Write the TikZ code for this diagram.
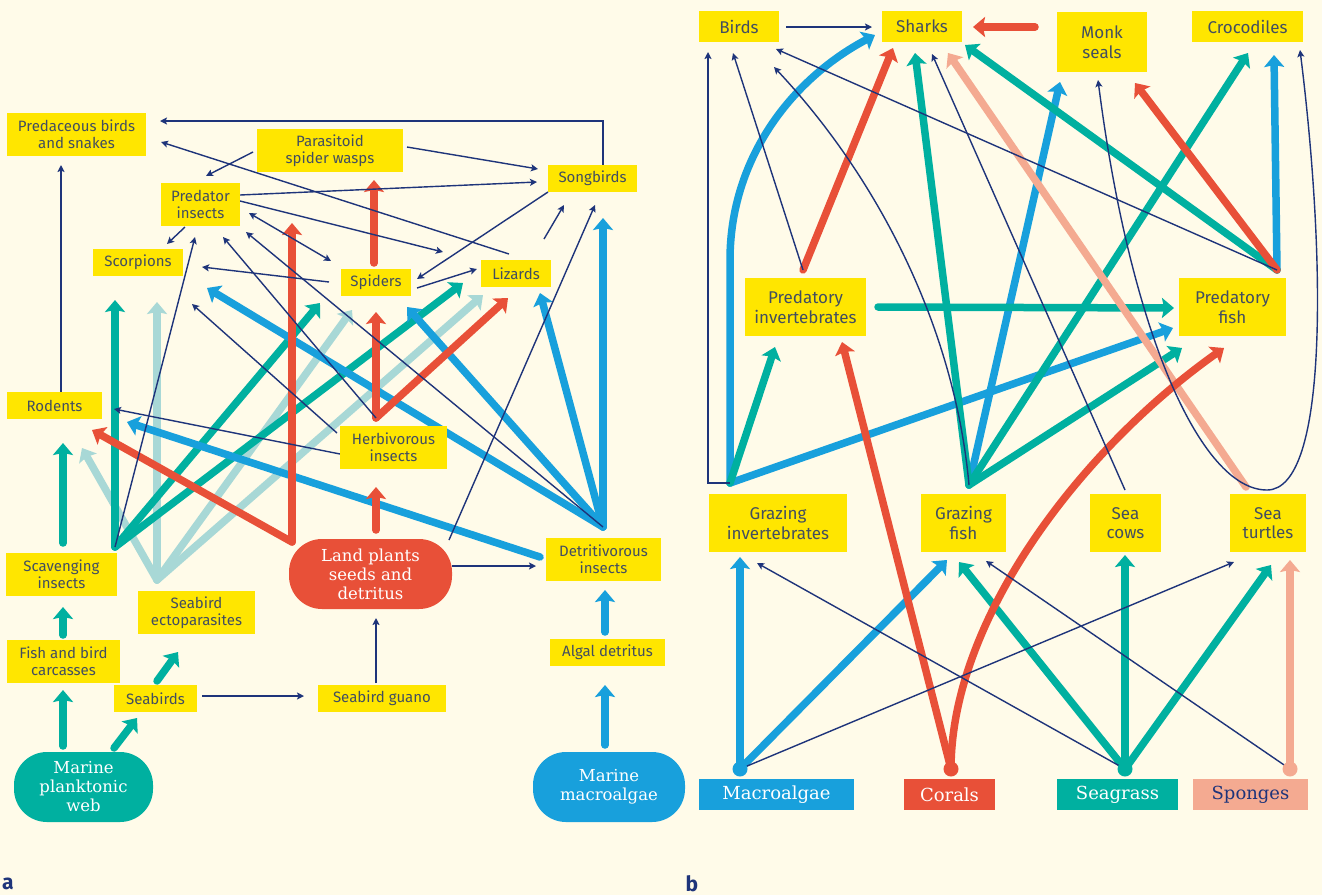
\documentclass[tikz,border=0pt]{standalone}
\usepackage{fontspec}
\setmainfont{Fira Sans}
\newfontfamily\slabfont{DejaVu Serif}
\usetikzlibrary{arrows.meta}

\definecolor{bgc}{RGB}{255,251,233}
\definecolor{boxy}{RGB}{255,230,0}
\definecolor{boxtxt}{RGB}{66,78,96}
\definecolor{navy}{RGB}{30,52,122}
\definecolor{teal}{RGB}{0,176,160}
\definecolor{sky}{RGB}{24,160,220}
\definecolor{coral}{RGB}{232,80,56}
\definecolor{pale}{RGB}{168,216,214}
\definecolor{pink}{RGB}{244,170,145}

\tikzset{
  ybox/.style={fill=boxy, text=boxtxt, inner sep=0pt, align=center},
  boxa/.style={ybox, font=\fontsize{15}{17}\selectfont},
  boxb/.style={ybox, font=\fontsize{17}{19.5}\selectfont},
  srca/.style={inner sep=0pt, align=center, text=white, rounded corners=33pt,
    font=\slabfont\fontsize{16.5}{19}\selectfont},
  srcb/.style={inner sep=0pt, align=center, text=white,
    font=\slabfont\fontsize{18}{20}\selectfont},
  fine/.style={draw=navy, line width=1.4pt,
    -{Stealth[length=7pt,width=7pt,inset=1.5pt]}},
  fat/.style={line width=7.5pt, line cap=round,
    -{Stealth[length=12pt,width=20pt,inset=2pt]}},
  panel/.style={font=\fontsize{21}{21}\selectfont\bfseries, text=navy, inner sep=0pt}
}

\begin{document}
\begin{tikzpicture}[x=1pt,y=-1pt]
\fill[bgc] (0,0) rectangle (1322,895);
\useasboundingbox (0,0) rectangle (1322,895);

% ---------- junctions and arrow ends, panel a ----------
\foreach \n/\x/\y in {
  songTop/603/165, pbsIn1/160/121, lizOut/509/254, pbsIn2/161/142,
  pswOutL/253/152, predInW/206/176, pswOutR/407/147, songInW1/538/169,
  predOut1/240/195, songInW2/537/182, predOut2/240/201, lizInA/443/252,
  predPort/249/213, spidPort/331/261, predOut3/185/227, scorpIn1/167/244,
  spidOutL/329/282, scorpIn2/202/267, songOutSW/548/192, spidInN/417/279,
  spidOutR/417/288, lizInW/477/269, lizOutN/544/239, songInS1/564/205,
  landOutNE/449/540, songInS2/595/205, scavHub/115/547, predInS1/195/237,
  herbHub/376/418, predInS2/223/237, herbOutW1/337/433, scorpIn3/192/304,
  herbOutW2/340/454, rodIn1/114/409, detHub/603/527, predInS3/246/232,
  rodTop/61/392, pbsInS/61/165, seabOut/202/696, guanoIn/304/696,
  guanoTop/376/683, landInS/376/618, landOutE/452/566, detInW/536/566,
  scorpInT/115/300, spidInT/320/303, lizInT/463/283,
  mpwTop/63/746, carcIn/63/690, mpwOutNE/114/748, seabIn/137/718,
  carcTop/63/635, scavIn/63/607, seabTop/157/681, ectoIn/178/652,
  scavTop/63/543, rodInT/63/443,
  ectoHub/157/580, scorpInL/157/302, rodInL/82/448, spidInL/352/310, lizInL/483/295,
  landHub/292/542, rodInR/92/430, predInR/292/223, landTop/376/530, herbIn/376/487,
  spidInR/376/312, lizInR/508/298, spidTop/374/263, pswIn/374/180,
  songInB/603/218, lizInB/540/293, spidInB/407/307, scorpInB/207/288,
  detOutW/540/557, rodInB/127/422, algTop/605/632, detIn/605/590,
  mmaTop/605/745, algIn/605/685}
  \coordinate (\n) at (\x,\y);

% ---------- junctions and arrow ends, panel b ----------
\foreach \n/\x/\y in {
  birdsOut/786/27, sharksInW/872/27, ginvHub/730/483, birdsInS1/708/52,
  pinvTop/803/270, birdsInS2/733/53, gfishHub/969/485, birdsInS3/774/67,
  scowTop/1125/490, sharksInS4/932/54, pfishHub/1277/270, birdsInS4/776/49,
  sturHub/1267/490, monkInS2/1098/80, crocInS2/1300/50,
  macroDot/740/769, sturInS1/1234/562, sgrassDot/1125/769, ginvInS2/757/563,
  spongDot/1290/769, gfishInS3/986/561,
  sharksInS1/875/35, pfishInW2/1173/328, ginvInS1/740/557, gfishInS1/947/560,
  monkInS1/1060/82, crocInS1/1274/55, pinvInS/775/347, sharksInS3/915/53,
  crocInS3/1248/53, pfishInW3/1182/348, pinvOutE/878/307, pfishInW1/1174/308,
  sharksInS6/965/45, scowIn/1125/555, sturInS2/1271/565, gfishInS2/959/562,
  coralDot/951/769, pinvInS2/842/342, pfishInS/1224/348, sharksInS2/893/48,
  monkInS3/1135/83, monkOut/1035/27, sharksInE/973/27, sturInS3/1290/560,
  sturTop/1246/487, sharksInS5/948/53}
  \coordinate (\n) at (\x,\y);

% ================= panel a: flows =================
% seabird-derived (ectoparasites)
\foreach \t in {scorpInL, rodInL, spidInL, lizInL}
  \draw[fat, pale] (ectoHub) -- (\t);
% marine plankton-derived
\foreach \t in {scorpInT, spidInT, lizInT}
  \draw[fat, teal] (scavHub) -- (\t);
\draw[fat, teal] (mpwTop) -- (carcIn);
\draw[fat, teal] (mpwOutNE) -- (seabIn);
\draw[fat, teal] (carcTop) -- (scavIn);
\draw[fat, teal] (seabTop) -- (ectoIn);
\draw[fat, teal] (scavTop) -- (rodInT);
% macroalgae-derived
\foreach \t in {songInB, lizInB, spidInB, scorpInB}
  \draw[fat, sky] (detHub) -- (\t);
\draw[fat, sky] (detOutW) -- (rodInB);
\draw[fat, sky] (algTop) -- (detIn);
\draw[fat, sky] (mmaTop) -- (algIn);
% land plant-derived
\draw[fat, coral] (landHub) -- (rodInR);
\draw[fat, coral] (landHub) -- (predInR);
\draw[fat, coral] (landTop) -- (herbIn);
\draw[fat, coral] (herbHub) -- (spidInR);
\draw[fat, coral] (herbHub) -- (lizInR);
\draw[fat, coral] (spidTop) -- (pswIn);
% other trophic links
\draw[fine] (songTop) |- (pbsIn1);
\draw[fine] (lizOut) -- (pbsIn2);
\draw[fine] (pswOutL) -- (predInW);
\draw[fine] (pswOutR) -- (songInW1);
\draw[fine] (predOut1) -- (songInW2);
\draw[fine] (predOut2) -- (lizInA);
\draw[fine, {Stealth[length=7pt,width=7pt,inset=1.5pt]}-{Stealth[length=7pt,width=7pt,inset=1.5pt]}] (predPort) -- (spidPort);
\draw[fine] (predOut3) -- (scorpIn1);
\draw[fine] (spidOutL) -- (scorpIn2);
\draw[fine] (songOutSW) -- (spidInN);
\draw[fine] (spidOutR) -- (lizInW);
\draw[fine] (lizOutN) -- (songInS1);
\draw[fine] (landOutNE) -- (songInS2);
\draw[fine] (scavHub) -- (predInS1);
\draw[fine] (herbHub) -- (predInS2);
\draw[fine] (herbOutW1) -- (scorpIn3);
\draw[fine] (herbOutW2) -- (rodIn1);
\draw[fine] (detHub) -- (predInS3);
\draw[fine] (rodTop) -- (pbsInS);
\draw[fine] (seabOut) -- (guanoIn);
\draw[fine] (guanoTop) -- (landInS);
\draw[fine] (landOutE) -- (detInW);

% ================= panel a: boxes =================
\node[boxa, minimum width=139, minimum height=43] (pbs) at (76.5,134.5) {Predaceous birds\\and snakes};
\node[boxa, minimum width=146, minimum height=43] (psw) at (330,150.5) {Parasitoid\\spider wasps};
\node[boxa, minimum width=89, minimum height=27] (song) at (592.5,178.5) {Songbirds};
\node[boxa, minimum width=79, minimum height=43] (pred) at (200.5,204.5) {Predator\\insects};
\node[boxa, minimum width=90, minimum height=27] (scorp) at (138,262.5) {Scorpions};
\node[boxa, minimum width=70, minimum height=27] (spid) at (376,282.5) {Spiders};
\node[boxa, minimum width=70, minimum height=27] (liz) at (516,273.5) {Lizards};
\node[boxa, minimum width=95, minimum height=27] (rod) at (54.5,405.5) {Rodents};
\node[boxa, minimum width=107, minimum height=43] (herb) at (393.5,447.5) {Herbivorous\\insects};
\node[boxa, minimum width=111, minimum height=43] (scav) at (61.5,574.5) {Scavenging\\insects};
\node[boxa, minimum width=117, minimum height=43] (ecto) at (196.5,612.5) {Seabird\\ectoparasites};
\node[boxa, minimum width=113, minimum height=43] (carc) at (63.5,661.5) {Fish and bird\\carcasses};
\node[boxa, minimum width=83, minimum height=27] (seab) at (155.5,698.5) {Seabirds};
\node[boxa, minimum width=128, minimum height=27] (guano) at (382,698.5) {Seabird guano};
\node[boxa, minimum width=115, minimum height=27] (algdet) at (607.5,652.5) {Algal detritus};
\node[boxa, minimum width=115, minimum height=43] (det) at (603.5,559.5) {Detritivorous\\insects};
\node[srca, fill=coral, minimum width=163, minimum height=70] (land) at (370.5,574) {Land plants\\seeds and\\detritus};
\node[srca, fill=teal, minimum width=139, minimum height=70] (mpw) at (83.5,787) {Marine\\planktonic\\web};
\node[srca, fill=sky, minimum width=152, minimum height=70] (mma) at (609,787) {Marine\\macroalgae};
\node[panel] (labA) at (8,884) {a};

% ================= panel b: flows =================
% macroalgae-derived
\draw[fat, sky] (ginvHub) -- (730,260) .. controls (730,160) and (790,80) .. (sharksInS1);
\draw[fat, sky] (ginvHub) -- (pfishInW2);
\draw[fat, sky] (macroDot) -- (ginvInS1);
\draw[fat, sky] (macroDot) -- (gfishInS1);
\draw[fat, sky] (gfishHub) -- (monkInS1);
\draw[fat, sky] (pfishHub) -- (crocInS1);
% seagrass-derived
\draw[fat, teal] (ginvHub) -- (pinvInS);
\draw[fat, teal] (gfishHub) -- (sharksInS3);
\draw[fat, teal] (gfishHub) -- (crocInS3);
\draw[fat, teal] (gfishHub) -- (pfishInW3);
\draw[fat, teal] (pinvOutE) -- (pfishInW1);
\draw[fat, teal] (pfishHub) -- (sharksInS6);
\draw[fat, teal] (sgrassDot) -- (scowIn);
\draw[fat, teal] (sgrassDot) -- (sturInS2);
\draw[fat, teal] (sgrassDot) -- (gfishInS2);
% sponge-derived
\draw[fat, pink] (spongDot) -- (sturInS3);
\draw[fat, pink] (sturTop) -- (sharksInS5);
% coral-derived
\draw[fat, coral] (coralDot) -- (pinvInS2);
\draw[fat, coral] (coralDot) .. controls (951,620) and (1080,450) .. (pfishInS);
\draw[fat, coral] (pinvTop) -- (sharksInS2);
\draw[fat, coral] (pfishHub) -- (monkInS3);
\draw[fat, coral] (monkOut) -- (sharksInE);
% other trophic links
\draw[fine] (birdsOut) -- (sharksInW);
\draw[fine] (ginvHub) -| (birdsInS1);
\draw[fine] (pinvTop) -- (birdsInS2);
\draw[fine] (gfishHub) .. controls (955,330) and (880,180) .. (birdsInS3);
\draw[fine] (scowTop) -- (sharksInS4);
\draw[fine] (pfishHub) -- (birdsInS4);
\draw[fine] (sturHub) .. controls (1200,490) and (1130,330) .. (monkInS2);
\draw[fine] (sturHub) .. controls (1330,490) and (1325,250) .. (crocInS2);
\draw[fine] (macroDot) -- (sturInS1);
\draw[fine] (sgrassDot) -- (ginvInS2);
\draw[fine] (spongDot) -- (gfishInS3);

% source dots
\fill[sky] (macroDot) circle (7.5);
\fill[coral] (coralDot) circle (7.5);
\fill[teal] (sgrassDot) circle (7.5);
\fill[pink] (spongDot) circle (7.5);

% ================= panel b: boxes =================
\node[boxb, minimum width=80, minimum height=31] (birds) at (739,26.5) {Birds};
\node[boxb, minimum width=80, minimum height=31] (sharks) at (922,26.5) {Sharks};
\node[boxb, minimum width=90, minimum height=60] (monk) at (1102,42) {Monk\\seals};
\node[boxb, minimum width=111, minimum height=31] (croc) at (1247.5,26.5) {Crocodiles};
\node[boxb, minimum width=121, minimum height=58] (pinv) at (805.5,307) {Predatory\\invertebrates};
\node[boxb, minimum width=107, minimum height=58] (pfish) at (1232.5,307) {Predatory\\fish};
\node[boxb, minimum width=138, minimum height=58] (ginv) at (778,523) {Grazing\\invertebrates};
\node[boxb, minimum width=85, minimum height=58] (gfish) at (963.5,523) {Grazing\\fish};
\node[boxb, minimum width=71, minimum height=58] (scow) at (1125.5,523) {Sea\\cows};
\node[boxb, minimum width=76, minimum height=58] (stur) at (1268,523) {Sea\\turtles};
\node[srcb, fill=sky, minimum width=155, minimum height=31] (macro) at (776.5,794.5) {Macroalgae};
\node[srcb, fill=coral, minimum width=91, minimum height=31] (corals) at (949.5,794.5) {Corals};
\node[srcb, fill=teal, minimum width=121, minimum height=31] (sgrass) at (1117.5,794.5) {Seagrass};
\node[srcb, fill=pink, text=navy, minimum width=115, minimum height=31] (spong) at (1250.5,794.5) {Sponges};
\node[panel] (labB) at (692,884) {b};
\end{tikzpicture}
\end{document}
